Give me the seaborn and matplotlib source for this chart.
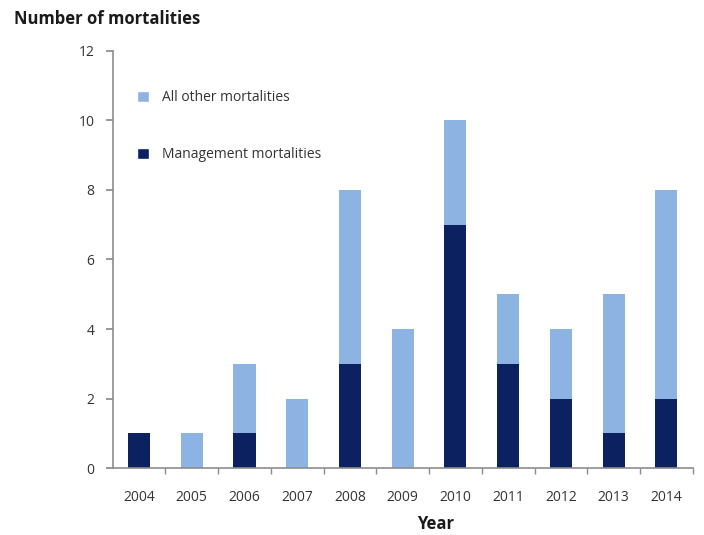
import pandas as pd
import matplotlib.pyplot as plt
import seaborn as sns
from matplotlib.patches import Patch
from matplotlib.ticker import FixedLocator

years = ['2004', '2005', '2006', '2007', '2008', '2009', '2010', '2011', '2012', '2013', '2014']
management = [1, 0, 1, 0, 3, 0, 7, 3, 2, 1, 2]
all_other = [0, 1, 2, 2, 5, 4, 3, 2, 2, 4, 6]

df = pd.DataFrame({'Year': years, 'Management': management, 'Other': all_other})
df['Total'] = df['Management'] + df['Other']

dark = '#0b2160'
light = '#8db3e2'

sns.set_theme(style="white")
plt.rcParams['font.family'] = ['Open Sans', 'DejaVu Sans']

fig = plt.figure(figsize=(7.04, 5.35), dpi=100)
ax = fig.add_axes([0.16, 0.125, 0.824, 0.78])

# stacked bars: total in light, management over it in dark
sns.barplot(data=df, x='Year', y='Total', color=light, width=0.42, ax=ax,
            saturation=1, order=years, linewidth=0)
sns.barplot(data=df, x='Year', y='Management', color=dark, width=0.42, ax=ax,
            saturation=1, order=years, linewidth=0)

ax.set_xlim(-0.5, len(years) - 0.5)
ax.set_ylim(0, 12)
ax.set_yticks(range(0, 13, 2))
ax.set_xlabel('')
ax.set_ylabel('')

for side in ['top', 'right']:
    ax.spines[side].set_visible(False)
for side in ['left', 'bottom']:
    ax.spines[side].set_color('#8c8c8c')
    ax.spines[side].set_linewidth(1.2)

ax.tick_params(axis='y', which='major', left=True, length=5, color='#8c8c8c',
               labelsize=10, labelcolor='#333333', pad=8)
ax.tick_params(axis='x', which='major', bottom=False, labelsize=10,
               labelcolor='#333333', pad=10)
ax.xaxis.set_minor_locator(FixedLocator([i + 0.5 for i in range(len(years))]))
ax.tick_params(axis='x', which='minor', bottom=True, length=4, color='#8c8c8c')

fig.text(0.02, 0.965, 'Number of mortalities', fontsize=12, fontweight='bold',
         color='#1a1a1a', va='center')
fig.text(0.618, 0.02, 'Year', fontsize=12, fontweight='bold', color='#1a1a1a',
         ha='center', va='center')

handles = [Patch(facecolor=light, label='All other mortalities'),
           Patch(facecolor=dark, label='Management mortalities')]
ax.legend(handles=handles, loc='upper left', bbox_to_anchor=(0.02, 0.935),
          frameon=False, fontsize=10, labelspacing=3.0, handlelength=0.9,
          handleheight=0.9, handletextpad=0.9, labelcolor='#333333')

fig.savefig('out.png', dpi=100)
